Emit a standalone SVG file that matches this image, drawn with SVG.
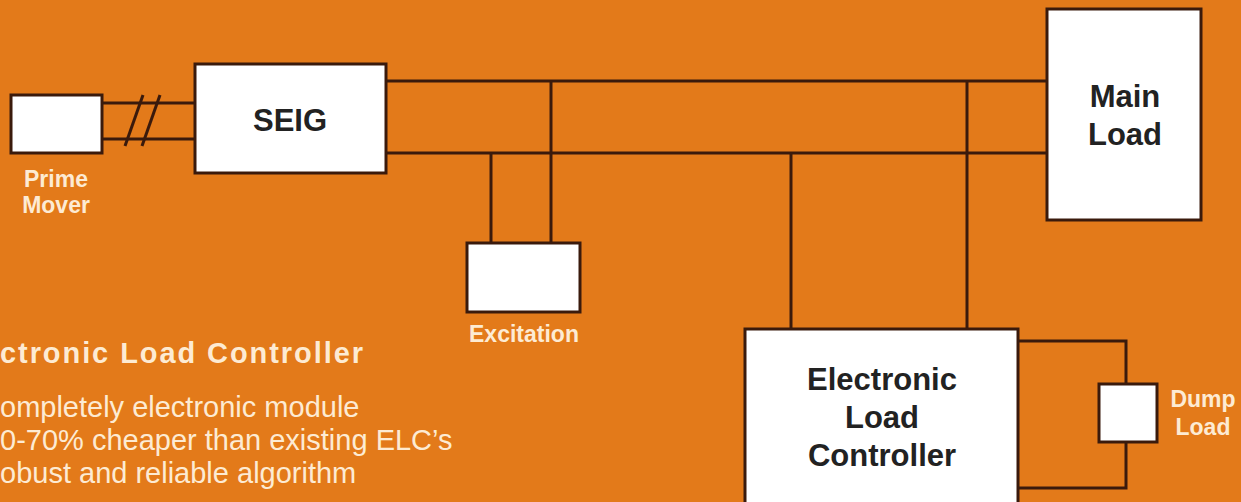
<svg xmlns="http://www.w3.org/2000/svg" width="1241" height="502" viewBox="0 0 1241 502">
<style>
.box{fill:#ffffff;stroke:#3a1a0c;stroke-width:3}
.wire{fill:none;stroke:#3a1a0c;stroke-width:3}
.bt{font-family:"Liberation Sans",Arial,sans-serif;font-weight:bold;fill:#222222;text-anchor:middle}
.lbl{font-family:"Liberation Sans",Arial,sans-serif;font-weight:bold;fill:#fdebd3;text-anchor:middle;font-size:23px}
.body{font-family:"Liberation Sans",Arial,sans-serif;fill:#fdebd3;font-size:29px}
</style>
<rect x="0" y="0" width="1241" height="502" fill="#e37a1a"/>
<g id="connectors">
<line class="wire" x1="102" y1="103" x2="195" y2="103"/>
<line class="wire" x1="102" y1="139" x2="195" y2="139"/>
<line class="wire" x1="125" y1="146" x2="143" y2="95"/>
<line class="wire" x1="142" y1="146" x2="160" y2="95"/>
<line class="wire" x1="386" y1="81" x2="1047" y2="81"/>
<line class="wire" x1="386" y1="153" x2="1047" y2="153"/>
<line class="wire" x1="491" y1="153" x2="491" y2="243"/>
<line class="wire" x1="551" y1="81" x2="551" y2="243"/>
<line class="wire" x1="791" y1="153" x2="791" y2="329"/>
<line class="wire" x1="967" y1="81" x2="967" y2="329"/>
<polyline class="wire" points="1018,341 1126,341 1126,384"/>
<polyline class="wire" points="1126,442 1126,488 1018,488"/>
</g>
<g id="prime-mover">
<rect class="box" x="11" y="95" width="91" height="58"/>
<text class="lbl" x="56" y="187">Prime</text>
<text class="lbl" x="56" y="213">Mover</text>
</g>
<g id="seig">
<rect class="box" x="195" y="64" width="191" height="109"/>
<text class="bt" x="290" y="131" font-size="31">SEIG</text>
</g>
<g id="main-load">
<rect class="box" x="1047" y="9" width="154" height="211"/>
<text class="bt" x="1125" y="107" font-size="31">Main</text>
<text class="bt" x="1125" y="145" font-size="31">Load</text>
</g>
<g id="excitation">
<rect class="box" x="467" y="243" width="113" height="69"/>
<text class="lbl" x="524" y="342">Excitation</text>
</g>
<g id="elc">
<rect class="box" x="745" y="329" width="273" height="185"/>
<text class="bt" x="882" y="390" font-size="31">Electronic</text>
<text class="bt" x="882" y="428" font-size="31">Load</text>
<text class="bt" x="882" y="466" font-size="31">Controller</text>
</g>
<g id="dump-load">
<rect class="box" x="1099" y="384" width="58" height="58"/>
<text class="lbl" x="1203" y="407">Dump</text>
<text class="lbl" x="1203" y="435">Load</text>
</g>
<g id="caption">
<text class="body" x="0" y="363" font-weight="bold" font-size="31" textLength="363" lengthAdjust="spacing">ctronic Load Controller</text>
<text class="body" x="0" y="417">ompletely electronic module</text>
<text class="body" x="0" y="450">0-70% cheaper than existing ELC’s</text>
<text class="body" x="0" y="483">obust and reliable algorithm</text>
</g>
</svg>
